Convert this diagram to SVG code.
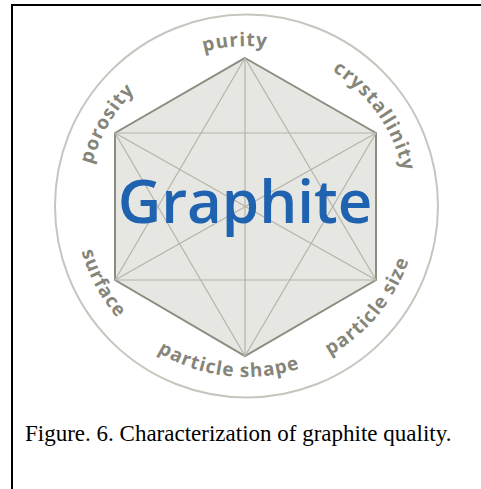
<svg xmlns="http://www.w3.org/2000/svg" width="481" height="489" viewBox="0 0 481 489">
<style>
.lbl{font-family:"Open Sans","Noto Sans",sans-serif;font-size:19px;font-weight:700;fill:#85857a;letter-spacing:1px}
.inner{stroke:#b4b4ab;stroke-width:1.2;fill:none}
</style>
<defs>
<path id="a-purity" d="M102.7,135.9 A160,160 0 0,1 379.1,116.5"/>
<path id="a-porosity" d="M107.2,284.8 A160,160 0 0,1 247.9,46"/>
<path id="a-cryst" d="M232.6,46.6 A160,160 0 0,1 391.5,273.6"/>
<path id="a-shape" d="M89.7,274.2 A171,171 0 0,0 384,307.7"/>
<path id="a-surface" d="M101,116.1 A171,171 0 0,0 241.4,376.9"/>
<path id="a-size" d="M218,374.6 A171,171 0 0,0 406.8,146.4"/>
</defs>
<rect width="481" height="489" fill="#ffffff"/>
<g id="frame">
<line x1="12" y1="5" x2="481" y2="5" stroke="#000" stroke-width="2"/>
<line x1="12" y1="4" x2="12" y2="489" stroke="#000" stroke-width="2"/>
</g>
<g id="circle">
<circle cx="246.5" cy="206" r="191.5" fill="none" stroke="#c6c6be" stroke-width="2"/>
</g>
<g id="hexagon">
<polygon points="245,58 376,133 376,280 245,356 115,280 115,133" fill="#e6e6e2" stroke="#8c8c80" stroke-width="2"/>
</g>
<g id="connectors">
<line class="inner" x1="115" y1="133" x2="376" y2="133"/>
<line class="inner" x1="115" y1="280" x2="376" y2="280"/>
<line class="inner" x1="245" y1="58" x2="245" y2="356"/>
<line class="inner" x1="245" y1="58" x2="115" y2="280"/>
<line class="inner" x1="245" y1="58" x2="376" y2="280"/>
<line class="inner" x1="245" y1="356" x2="115" y2="133"/>
<line class="inner" x1="245" y1="356" x2="376" y2="133"/>
<line class="inner" x1="115" y1="133" x2="376" y2="280"/>
<line class="inner" x1="376" y1="133" x2="115" y2="280"/>
</g>
<g id="title">
<text x="245" y="223" text-anchor="middle" font-family="'Open Sans','Noto Sans',sans-serif" font-size="60" font-weight="600" fill="#1f62b0">Graphite</text>
</g>
<g id="purity"><text class="lbl" text-anchor="middle"><textPath href="#a-purity" startOffset="50%">purity</textPath></text></g>
<g id="porosity"><text class="lbl" text-anchor="middle"><textPath href="#a-porosity" startOffset="50%">porosity</textPath></text></g>
<g id="crystallinity"><text class="lbl" text-anchor="middle"><textPath href="#a-cryst" startOffset="50%">crystallinity</textPath></text></g>
<g id="particle-shape"><text class="lbl" text-anchor="middle"><textPath href="#a-shape" startOffset="50%">particle shape</textPath></text></g>
<g id="surface"><text class="lbl" text-anchor="middle"><textPath href="#a-surface" startOffset="50%">surface</textPath></text></g>
<g id="particle-size"><text class="lbl" text-anchor="middle"><textPath href="#a-size" startOffset="50%">particle size</textPath></text></g>
<g id="caption">
<text x="25" y="441" font-family="'Liberation Serif','Times New Roman',serif" font-size="23" fill="#000">Figure. 6. Characterization of graphite quality.</text>
</g>
</svg>
